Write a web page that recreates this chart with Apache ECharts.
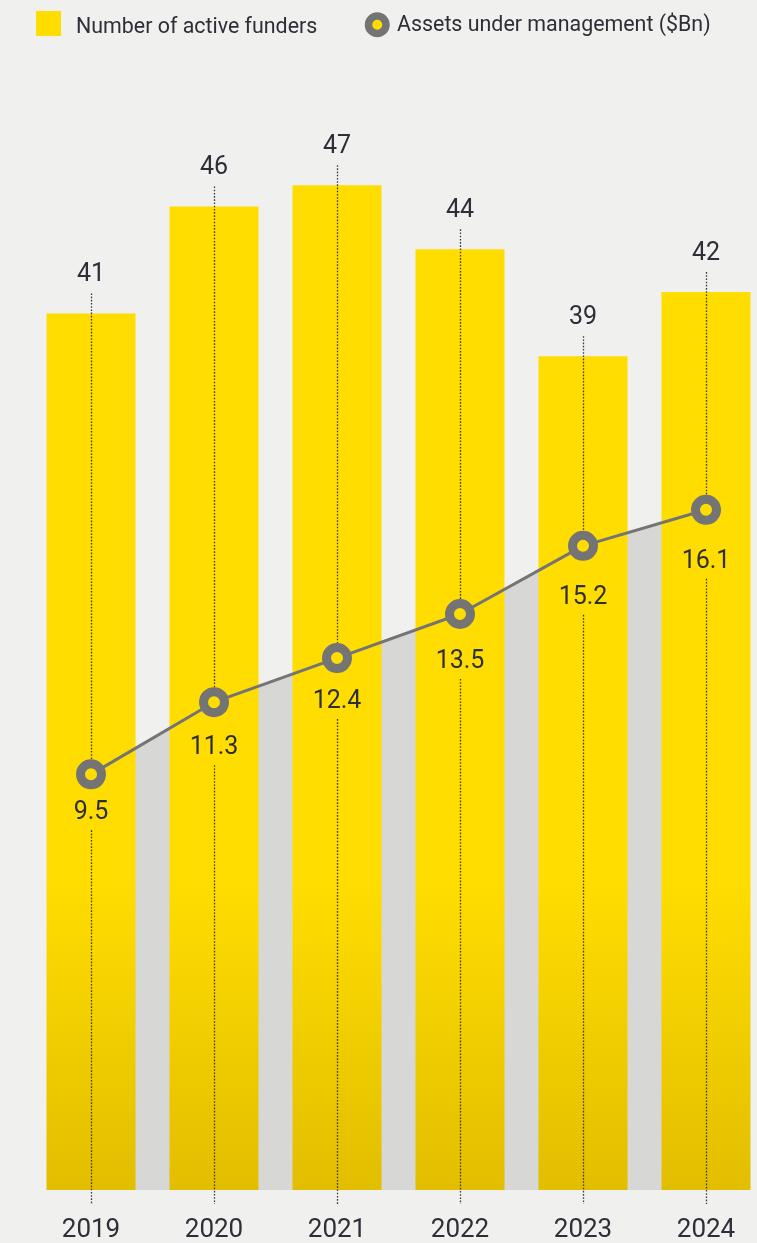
<!DOCTYPE html>
<html>
<head>
<meta charset="utf-8">
<script src="https://cdn.jsdelivr.net/npm/echarts@6/dist/echarts.min.js"></script>
<style>
html,body{margin:0;padding:0;background:#F0F0EE;}
#c{width:757px;height:1243px;}
</style>
</head>
<body>
<div id="c"></div>
<script>
const categories = ['2019','2020','2021','2022','2023','2024'];
const funders = [41, 46, 47, 44, 39, 42];
const aum = [9.5, 11.3, 12.4, 13.5, 15.2, 16.1];
const funderName = 'Number of active funders';
const aumName = 'Assets under management ($Bn)';
// label drop below each marker (pixels) — layout only
const aumLabelDrop = [34, 41, 39, 43, 47, 47];

const BAR_MIN = 0, BAR_MAX = 50;
const LINE_MIN = -0.87, LINE_MAX = 25.8;
const FONT = 'Roboto, "Noto Sans", sans-serif';
const TXT = '#2E2E38';

const chart = echarts.init(document.getElementById('c'), null, {renderer:'canvas'});

function toBarAxis(v){
  return (v - LINE_MIN) / (LINE_MAX - LINE_MIN) * (BAR_MAX - BAR_MIN) + BAR_MIN;
}

const guideData = categories.map((c, i) => [i, funders[i], aum[i]]);
const aumData = aum.map((v, i) => ({value: v, label: {distance: aumLabelDrop[i] - 23}}));

const option = {
  backgroundColor: '#F0F0EE',
  animation: false,
  legend: [
    {
      data: [funderName],
      left: 36, top: 11, padding: 0,
      itemWidth: 25, itemHeight: 25,
      icon: 'rect',
      formatter: '{a|{name}}',
      textStyle: {color: TXT, fontSize: 21.4, fontFamily: FONT, padding: [0,0,0,10],
        rich: {a: {color: TXT, fontSize: 21.4, fontFamily: FONT, padding: [9,0,0,0]}}}
    },
    {
      data: [{name: aumName, icon: 'circle', itemStyle: {color: '#FFDD00', borderColor: '#747474', borderWidth: 7.5}}],
      left: 364.75, top: 12.25, padding: 0,
      itemWidth: 17.5, itemHeight: 17.5,
      formatter: '{a|{name}}',
      textStyle: {color: TXT, fontSize: 21.4, fontFamily: FONT, padding: [0,0,0,6],
        rich: {a: {color: TXT, fontSize: 21.4, fontFamily: FONT, padding: [2,0,0,0]}}}
    }
  ],
  grid: {left: 91, top: 121, right: 51, bottom: 53, containLabel: false},
  xAxis: {
    type: 'category',
    data: categories,
    boundaryGap: false,
    axisLine: {show: false},
    axisTick: {show: false},
    axisLabel: {color: TXT, fontSize: 26, fontFamily: FONT, margin: 27},
    splitLine: {show: false}
  },
  yAxis: [
    {type: 'value', min: BAR_MIN, max: BAR_MAX, show: false},
    {type: 'value', min: LINE_MIN, max: LINE_MAX, show: false}
  ],
  series: [
    {
      name: '__area',
      type: 'line',
      yAxisIndex: 1,
      data: aum,
      symbol: 'none',
      lineStyle: {width: 0},
      areaStyle: {color: '#D7D7D5', origin: 'start', opacity: 1},
      z: 1,
      silent: true
    },
    {
      name: funderName,
      type: 'bar',
      data: funders,
      barWidth: 89,
      clip: false,
      itemStyle: {
        color: {
          type: 'linear', x: 0, y: 880, x2: 0, y2: 1190, global: true,
          colorStops: [{offset: 0, color: '#FFDD00'}, {offset: 1, color: '#E2BE00'}]
        }
      },
      label: {show: true, position: 'top', distance: 26, color: TXT, fontSize: 25, fontFamily: FONT},
      z: 2
    },
    {
      name: '__guides',
      type: 'custom',
      data: guideData,
      encode: {x: 0, y: 1},
      z: 3,
      clip: false,
      silent: true,
      renderItem: function(params, api){
        const i = api.value(0);
        const top = api.coord([i, api.value(1)]);
        const pt = api.coord([i, toBarAxis(api.value(2))]);
        const base = api.coord([i, 0]);
        const x = Math.round(top[0]) + 0.5;
        const gap = aumLabelDrop[params.dataIndex] + 22;
        const style = {stroke: '#3A3A3A', lineWidth: 1.3, lineDash: [1.6, 1.6]};
        return {
          type: 'group',
          children: [
            {type: 'line', shape: {x1: x, y1: top[1] - 20, x2: x, y2: pt[1] - 15}, style: style},
            {type: 'line', shape: {x1: x, y1: pt[1] + gap, x2: x, y2: base[1] + 14}, style: style}
          ]
        };
      }
    },
    {
      name: aumName,
      type: 'line',
      yAxisIndex: 1,
      data: aumData,
      clip: false,
      symbol: 'circle',
      symbolSize: 21,
      lineStyle: {color: '#747474', width: 3},
      itemStyle: {color: '#FFDD00', borderColor: '#747474', borderWidth: 9},
      label: {show: true, position: 'bottom', color: TXT, fontSize: 25, fontFamily: FONT},
      z: 4
    }
  ]
};
chart.setOption(option);
</script>
</body>
</html>
